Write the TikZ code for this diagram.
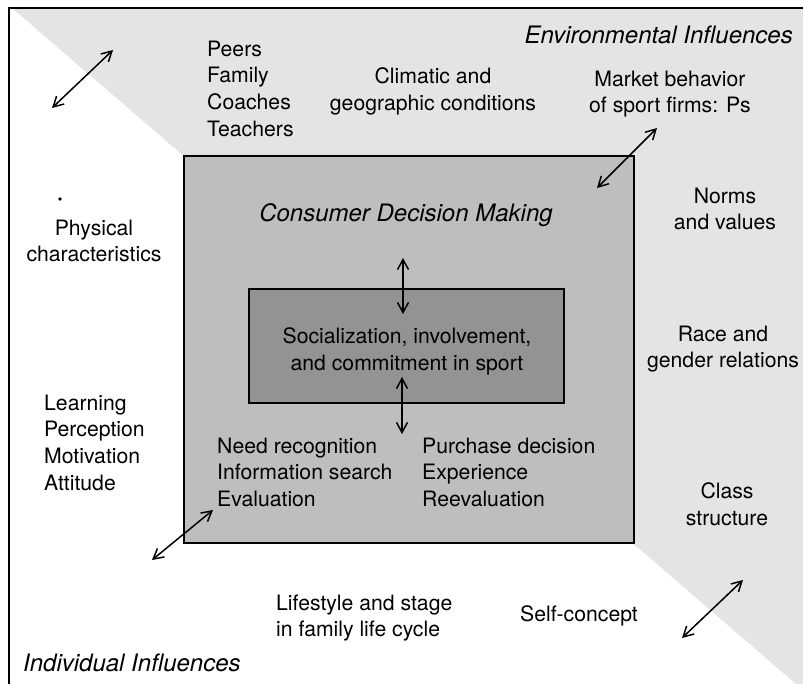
\documentclass[tikz,border=0pt]{standalone}
\usepackage{fontspec}
\setmainfont{TeX Gyre Heros}
\usetikzlibrary{arrows.meta}
\definecolor{envgray}{HTML}{E4E4E4}
\definecolor{boxgray}{HTML}{BEBEBE}
\definecolor{coregray}{HTML}{939393}
\begin{document}
\begin{tikzpicture}[x=1pt,y=-1pt,
  lbl/.style={inner sep=0pt,font=\fontsize{21.2}{26.7}\selectfont},
  ttl/.style={inner sep=0pt,font=\fontsize{24}{28}\selectfont\itshape},
  barb/.tip={Straight Barb[length=10pt,width=11pt,line width=1.5pt]},
  link/.style={line width=1.5pt,barb-barb},
  panel/.style={draw=black,line width=1.6pt,anchor=north west,inner sep=0pt}]
\useasboundingbox (0,0) rectangle (803,684);
\begin{scope}
  \clip (0,0) rectangle (803,684);
  % environmental half above the diagonal
  \fill[envgray] (12,8) -- (803,8) -- (803,690) -- cycle;
  % frame (top and left edges)
  \draw[line width=1.6pt] (803,8) -- (9,8) -- (9,684);
\end{scope}

% consumer decision making box and its core
\node[panel,fill=boxgray,minimum width=450pt,minimum height=387pt] (cdm) at (183,155) {};
\node[panel,fill=coregray,minimum width=315pt,minimum height=114pt] (core) at (248,288) {};

\node[ttl,anchor=north] (cdmt) at (406,203.5) {Consumer Decision Making};
\node[lbl,anchor=north,align=center] (soc) at (407,327.4) {Socialization, involvement,\\and commitment in sport};
\node[lbl,anchor=north west,align=left] (steps1) at (217,437.4) {Need recognition\\Information search\\Evaluation};
\node[lbl,anchor=north west,align=left] (steps2) at (422,437.4) {Purchase decision\\Experience\\Reevaluation};

% environmental influences
\node[ttl,anchor=north east] (envt) at (793,26) {Environmental Influences};
\node[lbl,anchor=north west,align=left] (peers) at (207,40.4) {Peers\\Family\\Coaches\\Teachers};
\node[lbl,anchor=north,align=center] (clim) at (433,67.4) {Climatic and\\geographic conditions};
\node[lbl,anchor=north,align=center] (mkt) at (670,70.4) {Market behavior\\of sport firms: Ps};
\node[lbl,anchor=north,align=center] (norms) at (725,187.4) {Norms\\and values};
\node[lbl,anchor=north,align=center] (race) at (723,325.4) {Race and\\gender relations};
\node[lbl,anchor=north,align=center] (class) at (727,482.4) {Class\\structure};

% individual influences
\node[ttl,anchor=north west] (indt) at (23,654) {Individual Influences};
\fill (60,199) circle (1.8pt);
\node[lbl,anchor=north,align=center] (phys) at (94,219.4) {Physical\\characteristics};
\node[lbl,anchor=north west,align=left] (psych) at (44,394.4) {Learning\\Perception\\Motivation\\Attitude};
\node[lbl,anchor=north west,align=left] (life) at (276,594.4) {Lifestyle and stage\\in family life cycle};
\node[lbl,anchor=north] (self) at (579,605.4) {Self-concept};

% arrow end points
\coordinate (a1s) at (52,108);  \coordinate (a1e) at (113,50);
\coordinate (a2s) at (597,188); \coordinate (a2e) at (657,128);
\coordinate (a3s) at (152,560); \coordinate (a3e) at (213,510);
\coordinate (a4s) at (682,638); \coordinate (a4e) at (743,580);
\coordinate (v1s) at (403,258); \coordinate (v1e) at (403,314);
\coordinate (v2s) at (402,377); \coordinate (v2e) at (402,434);

\draw[link] (a1s) -- (a1e);
\draw[link] (a2s) -- (a2e);
\draw[link] (a3s) -- (a3e);
\draw[link] (a4s) -- (a4e);
\draw[link] (v1s) -- (v1e);
\draw[link] (v2s) -- (v2e);
\end{tikzpicture}
\end{document}
